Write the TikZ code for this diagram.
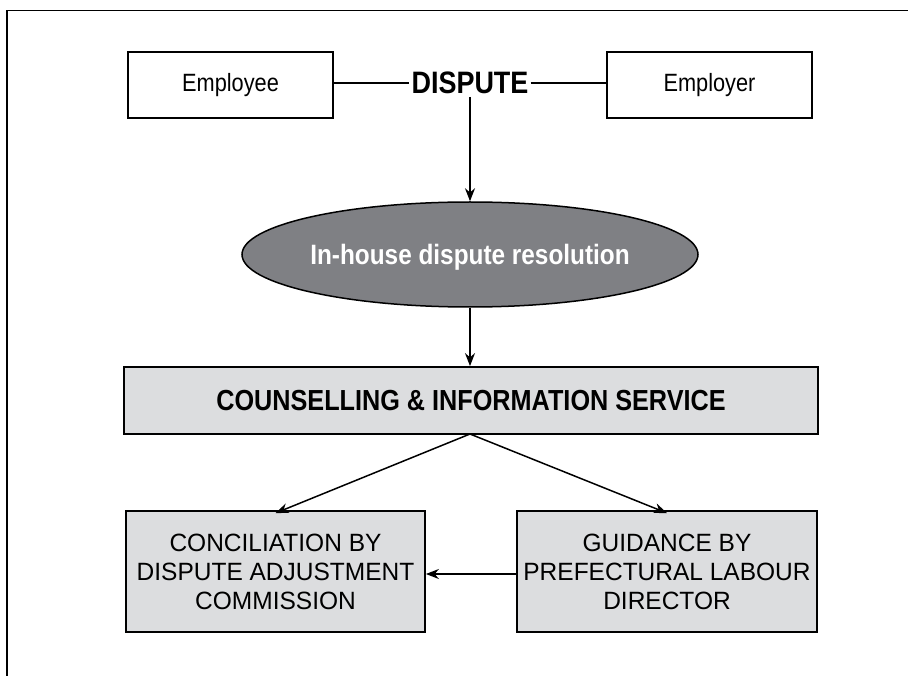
\documentclass[tikz,border=0pt]{standalone}
\usepackage{fontspec}
\setmainfont{Liberation Sans}[FakeStretch=0.87]
\newfontfamily\boxfont{Liberation Sans}[FakeStretch=0.98]
\usetikzlibrary{shapes.geometric,arrows.meta}
\definecolor{ellgray}{HTML}{7F8084}
\definecolor{boxgray}{HTML}{DCDDDF}
\tikzset{
  partybox/.style={draw, line width=1.6pt, minimum width=205pt, minimum height=66pt, inner sep=0pt, font=\fontsize{25}{30}\selectfont},
  graybox/.style={draw, line width=1.8pt, fill=boxgray, inner sep=0pt, align=center},
  arr/.style={line width=1.5pt, -{Stealth[length=13pt,width=10pt]}},
  plain/.style={line width=1.5pt}
}
\begin{document}
\begin{tikzpicture}[x=1pt,y=-1pt]
\useasboundingbox (0,0) rectangle (908,676);
\draw[plain] (7,676) -- (7,10.5) -- (908,10.5);
\node[partybox] (emp) at (230.5,85) {Employee};
\node[partybox] (empr) at (709.5,85) {Employer};
\node[inner sep=2pt, font=\fontsize{31}{36}\selectfont\bfseries] (disp) at (470,83) {DISPUTE};
\draw[plain] (emp.east |- disp.west) -- (disp.west);
\draw[plain] (disp.east) -- (empr.west |- disp.east);
\node[ellipse, draw, line width=1.5pt, fill=ellgray, minimum width=456pt, minimum height=105pt, inner sep=0pt, text=white, text depth=0pt, font=\fontsize{28}{32}\selectfont\bfseries] (ell) at (470,254.5) {In-house dispute resolution};
\coordinate (dtop) at (470,97);
\draw[arr] (dtop) -- (ell.north);
\node[graybox, minimum width=694pt, minimum height=67pt, font=\fontsize{29}{33}\selectfont\bfseries] (coun) at (471,400.5) {COUNSELLING \& INFORMATION SERVICE};
\draw[arr] (ell.south) -- (ell.south |- coun.north);
\node[graybox, minimum width=299pt, minimum height=121pt, font=\boxfont\fontsize{25}{29}\selectfont] (left) at (275.5,571.5) {CONCILIATION BY\\DISPUTE ADJUSTMENT\\COMMISSION};
\node[graybox, minimum width=300pt, minimum height=121pt, font=\boxfont\fontsize{25}{29}\selectfont] (right) at (667,571.5) {GUIDANCE BY\\PREFECTURAL LABOUR\\DIRECTOR};
\coordinate (split) at (470,434);
\draw[arr] (split) -- ([yshift=-3pt]left.north);
\draw[arr] (split) -- ([yshift=-3pt]right.north);
\draw[arr] ([yshift=-2.5pt]right.west) -- ([yshift=-2.5pt]left.east);
\end{tikzpicture}
\end{document}
